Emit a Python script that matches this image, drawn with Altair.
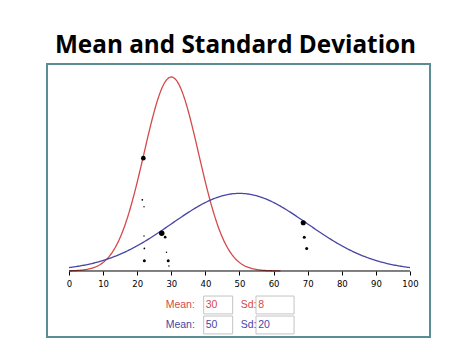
import altair as alt
import pandas as pd
import numpy as np

# --- data ---
means = [30, 50]
sds = [8, 20]
curve_names = ["red", "blue"]
curve_ranges = [(0, 62), (0, 100)]
curve_colors = ["#d44a4a", "#4646a6"]
label_colors = ["#d04848", "#3c3cac"]

dot_x = [21.8, 27.2, 68.7, 69.0, 69.7, 28.2, 22.1, 29.1, 21.5, 22.0, 22.0, 22.1, 28.6, 29.3]
dot_y = [0.0290, 0.0097, 0.0124, 0.0087, 0.0058, 0.0087, 0.0026, 0.0026,
         0.0183, 0.0165, 0.0090, 0.0058, 0.0048, 0.0013]
dot_size = [22, 30, 26, 9, 9, 7, 9, 9, 3, 2, 2, 3, 2, 2]

x_ticks = list(range(0, 101, 10))

# --- tables ---
rows = []
for name, m, s, (a, b) in zip(curve_names, means, sds, curve_ranges):
    for xv in np.linspace(a, b, 300):
        rows.append({"curve": name, "x": float(xv), "mean": m, "sd": s})
curves = pd.DataFrame(rows)

dots = pd.DataFrame({"x": dot_x, "y": dot_y, "s": dot_size})

row_y = [-0.00874, -0.01388]
box_h = 0.0040
widgets = pd.DataFrame({
    "curve": curve_names,
    "mean": [str(m) for m in means],
    "sd": [str(s) for s in sds],
    "y": row_y,
    "y1": [r + box_h / 2 + 0.0003 for r in row_y],
    "y2": [r - box_h / 2 - 0.0003 for r in row_y],
})

xscale = alt.Scale(domain=[-6.45, 105.87], nice=False, zero=False)
yscale = alt.Scale(domain=[-0.01697, 0.05321], nice=False, zero=False)
color_scale = alt.Scale(domain=curve_names, range=curve_colors)
label_scale = alt.Scale(domain=curve_names, range=label_colors)

xaxis = alt.Axis(values=x_ticks, title=None, domain=False, grid=False,
                 offset=-66, tickSize=4, tickColor="black",
                 labelFont="DejaVu Sans", labelFontSize=8.5,
                 labelOverlap=False, labelColor="black", labelPadding=4)


def xd(v):
    return alt.XDatum(v, type="quantitative", scale=xscale, axis=xaxis)


line = alt.Chart(curves).transform_calculate(
    y="densityNormal(datum.x, datum.mean, datum.sd)"
).mark_line(strokeWidth=1.3).encode(
    x=alt.X("x:Q", scale=xscale, axis=xaxis),
    y=alt.Y("y:Q", scale=yscale, axis=None),
    color=alt.Color("curve:N", scale=color_scale, legend=None),
    detail="curve:N",
)

baseline = alt.Chart(pd.DataFrame({"a": [x_ticks[0]], "b": [x_ticks[-1]], "y": [0]})).mark_rule(
    color="black", strokeWidth=1
).encode(x=alt.X("a:Q", scale=xscale, axis=xaxis), x2="b:Q",
         y=alt.Y("y:Q", scale=yscale, axis=None))

pts = alt.Chart(dots).mark_circle(color="black", opacity=1).encode(
    x=alt.X("x:Q", scale=xscale, axis=xaxis), y=alt.Y("y:Q", scale=yscale, axis=None),
    size=alt.Size("s:Q", scale=None, legend=None)
)

base_w = alt.Chart(widgets)
box1 = base_w.mark_rect(fill="white", stroke="#c4c4c4", strokeWidth=1).encode(
    x=xd(39.5), x2=alt.X2Datum(48.0), y=alt.Y("y1:Q", scale=yscale, axis=None), y2="y2:Q")
box2 = base_w.mark_rect(fill="white", stroke="#c4c4c4", strokeWidth=1).encode(
    x=xd(54.84), x2=alt.X2Datum(66.0), y=alt.Y("y1:Q", scale=yscale, axis=None), y2="y2:Q")
txt_kw = dict(align="left", baseline="middle", font="Liberation Sans", fontSize=10.5)
lab_mean = base_w.mark_text(**txt_kw).encode(
    x=xd(28.36), y=alt.Y("y:Q", scale=yscale, axis=None), text=alt.value("Mean:"),
    color=alt.Color("curve:N", scale=label_scale, legend=None))
val_mean = base_w.mark_text(**txt_kw).encode(
    x=xd(40.1), y=alt.Y("y:Q", scale=yscale, axis=None), text="mean:N",
    color=alt.Color("curve:N", scale=label_scale, legend=None))
lab_sd = base_w.mark_text(**txt_kw).encode(
    x=xd(50.35), y=alt.Y("y:Q", scale=yscale, axis=None), text=alt.value("Sd:"),
    color=alt.Color("curve:N", scale=label_scale, legend=None))
val_sd = base_w.mark_text(**txt_kw).encode(
    x=xd(55.5), y=alt.Y("y:Q", scale=yscale, axis=None), text="sd:N",
    color=alt.Color("curve:N", scale=label_scale, legend=None))

chart = alt.layer(
    line, baseline, pts, box1, box2, lab_mean, val_mean, lab_sd, val_sd
).resolve_scale(color="shared").properties(
    width=383, height=273,
    background="white",
    autosize=alt.AutoSizeParams(type="none"),
    padding={"left": 47, "top": 64, "right": 44, "bottom": 18},
    title=alt.TitleParams("Mean and Standard Deviation", font="Open Sans",
                          fontSize=24.3, fontWeight="bold", color="black",
                          anchor="middle", offset=6, dx=-3),
).configure_view(
    stroke="#5b8d97", strokeWidth=2
)

chart.save("out.html", embed_options={"renderer": "svg", "actions": False})
